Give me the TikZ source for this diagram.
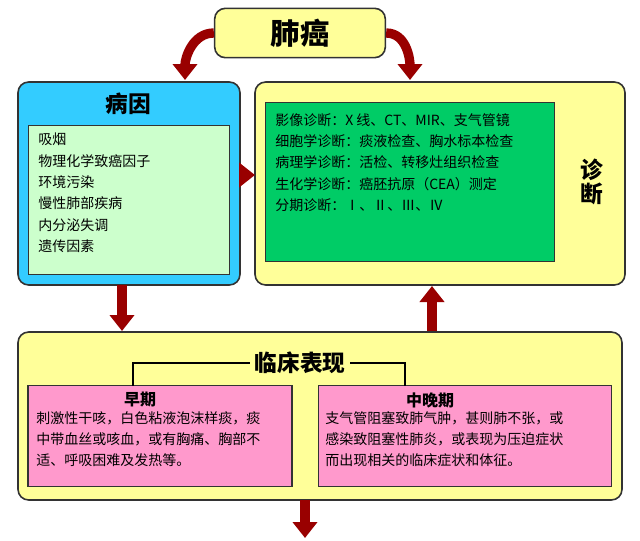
\documentclass[tikz,border=0pt]{standalone}
\usepackage{fontspec}
\setmainfont{Noto Sans CJK SC}
\usetikzlibrary{arrows.meta}
\definecolor{ylw}{HTML}{FFFF99}
\definecolor{dred}{HTML}{990000}
\definecolor{cyanb}{HTML}{33CCFF}
\definecolor{lgreen}{HTML}{CCFFCC}
\definecolor{grn}{HTML}{00CC66}
\definecolor{pnk}{HTML}{FF99CC}
\tikzset{
  ybox/.style={draw=black!80,line width=1.2pt,fill=ylw,rounded corners=8pt},
  ibox/.style={draw=black!80,line width=0.8pt},
  barrow/.style={dred,line width=7pt,-{Triangle[length=12pt,width=18pt]}},
  txt/.style={font=\fontsize{10.5}{16}\selectfont,align=left,anchor=north west,inner sep=0pt},
  ttl/.style={font=\fontsize{17}{19}\selectfont\bfseries},
}
\begin{document}
\begin{tikzpicture}[x=0.75pt,y=-0.75pt]
\useasboundingbox (0,0) rectangle (640,540);
% top
\node[ybox,minimum width=128pt,minimum height=37pt,font=\fontsize{22}{24}\selectfont\bfseries] (top) at (300,33) {肺癌};
% causes
\draw[draw=black!80,line width=1.2pt,fill=cyanb,rounded corners=8pt] (18,82) rectangle (240,285);
\node[ttl] (bytitle) at (128,104) {病因};
\node[ibox,fill=lgreen,minimum width=151pt,minimum height=112pt] (bybox) at (129,200) {};
\node[txt] (bytxt) at (38,133) {吸烟\\物理化学致癌因子\\环境污染\\慢性肺部疾病\\内分泌失调\\遗传因素};
% diagnosis
\draw[ybox] (255,82) rectangle (625,285);
\coordinate (zdl) at (255,175);
\node[ibox,fill=grn,minimum width=217pt,minimum height=119pt] (zdbox) at (410,182) {};
\node[txt] (zdtxt) at (275,113) {影像诊断：X 线、CT、MIR、支气管镜\\细胞学诊断：痰液检查、胸水标本检查\\病理学诊断：活检、转移灶组织检查\\生化学诊断：癌胚抗原（CEA）测定\\分期诊断：Ⅰ、Ⅱ、Ⅲ、Ⅳ};
\node[ttl,inner sep=0pt] (zd1) at (592,170) {诊};
\node[ttl,inner sep=0pt] (zd2) at (592,194) {断};
% clinical
\draw[ybox] (18,332) rectangle (622,500);
\node[ttl,fill=ylw] (lc) at (300,363) {临床表现};
\node[ibox,fill=pnk,minimum width=198pt,minimum height=76pt] (early) at (160,436) {};
\node[ibox,fill=pnk,minimum width=220pt,minimum height=76pt] (late) at (465,436) {};
\node[font=\fontsize{12}{14}\selectfont\bfseries] (et) at (140,400) {早期};
\node[font=\fontsize{12}{14}\selectfont\bfseries] (lt) at (430,400) {中晚期};
\node[txt] (etx) at (36,411) {刺激性干咳，白色粘液泡沫样痰，痰\\中带血丝或咳血，或有胸痛、胸部不\\适、呼吸困难及发热等。};
\node[txt] (ltx) at (325,411) {支气管阻塞致肺气肿，甚则肺不张，或\\感染致阻塞性肺炎，或表现为压迫症状\\而出现相关的临床症状和体征。};
\draw[line width=0.8pt] (lc.west) -- (133,363) -- (133,386);
\draw[line width=0.8pt] (lc.east) -- (405,363) -- (405,386);
% arrows
\draw[barrow] (top.west) to[out=180,in=90] (185,80);
\draw[barrow] (top.east) to[out=0,in=90] (410,80);
\draw[barrow] (240,175) -- (zdl);
\draw[barrow] (122,285) -- (122,331);
\draw[barrow] (432,331) -- (432,286);
\draw[barrow] (305,500) -- (305,538);
\end{tikzpicture}
\end{document}
